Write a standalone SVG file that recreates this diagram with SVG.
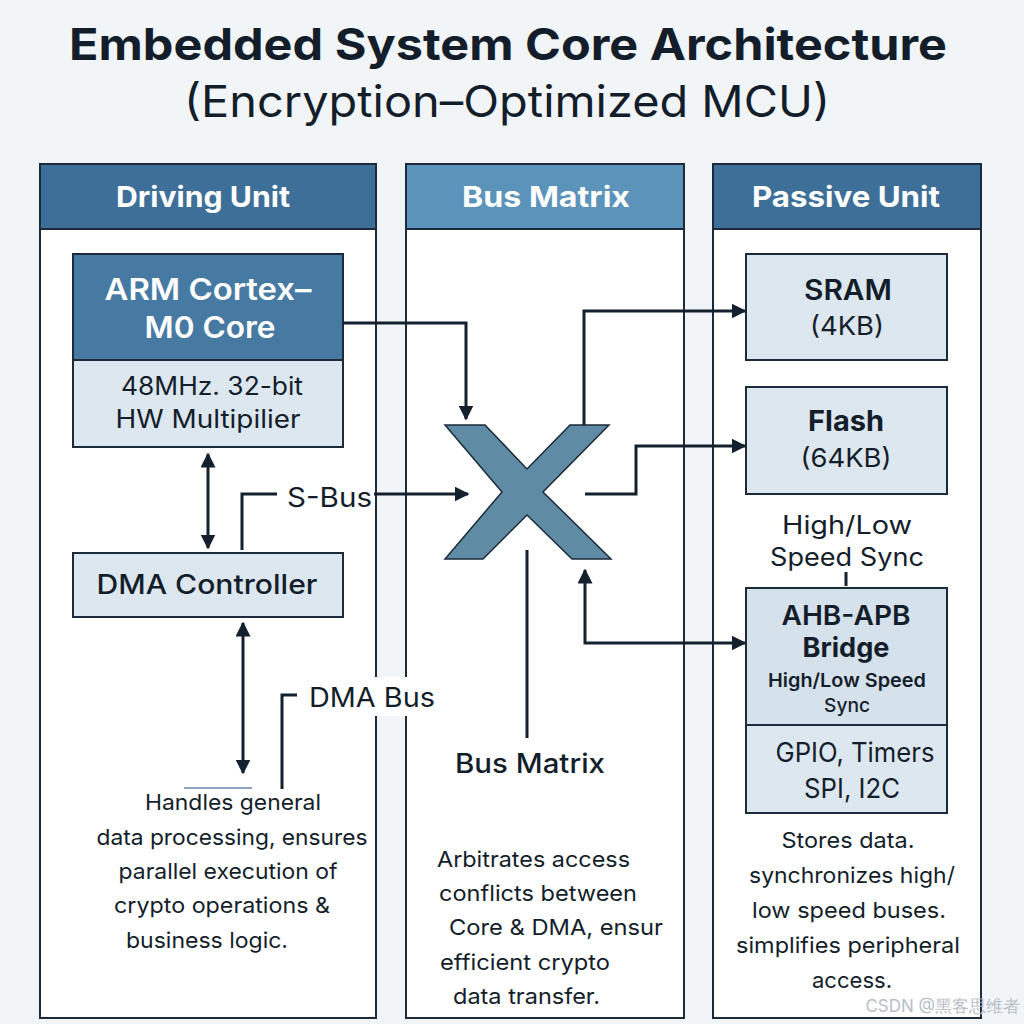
<svg xmlns="http://www.w3.org/2000/svg" width="1024" height="1024" viewBox="0 0 1024 1024">
<defs>
<style>
text{font-family:Inter,"Liberation Sans","DejaVu Sans",sans-serif;fill:#141e2b}
.hd{font-weight:bold;font-size:29px;fill:#ffffff}
.panel{fill:#ffffff;stroke:#1c2a3a;stroke-width:2}
.box{fill:#dde7f0;stroke:#1c2a3a;stroke-width:2}
.ln{fill:none;stroke:#15202e;stroke-width:3}
.desc{font-size:22px}
</style>
<marker id="ah" viewBox="0 0 10 10" refX="9" refY="5" markerWidth="5" markerHeight="5" orient="auto-start-reverse" markerUnits="strokeWidth">
<path d="M0,0 L10,5 L0,10 z" fill="#15202e"/>
</marker>
</defs>
<rect width="1024" height="1024" fill="#f2f5f8"/>
<g id="title">
<text x="508" y="60" text-anchor="middle" font-size="44" font-weight="bold" textLength="878" lengthAdjust="spacingAndGlyphs">Embedded System Core Architecture</text>
<text x="507" y="117" text-anchor="middle" font-size="44" textLength="646" lengthAdjust="spacingAndGlyphs">(Encryption–Optimized MCU)</text>
</g>
<g id="panel-driving">
<rect class="panel" x="40" y="164" width="336" height="854"/>
<rect x="40" y="164" width="336" height="65" fill="#3e6f98" stroke="#1c2a3a" stroke-width="2"/>
<text class="hd" x="203" y="207" text-anchor="middle" textLength="174" lengthAdjust="spacingAndGlyphs">Driving Unit</text>
</g>
<g id="panel-bus">
<rect class="panel" x="406" y="164" width="278" height="854"/>
<rect x="406" y="164" width="278" height="65" fill="#5b93ba" stroke="#1c2a3a" stroke-width="2"/>
<text class="hd" x="546" y="207" text-anchor="middle" textLength="168" lengthAdjust="spacingAndGlyphs">Bus Matrix</text>
</g>
<g id="panel-passive">
<rect class="panel" x="713" y="164" width="268" height="854"/>
<rect x="713" y="164" width="268" height="65" fill="#3e6f98" stroke="#1c2a3a" stroke-width="2"/>
<text class="hd" x="846" y="207" text-anchor="middle" textLength="188" lengthAdjust="spacingAndGlyphs">Passive Unit</text>
</g>
<g id="arm-core">
<rect x="73" y="254" width="270" height="106" fill="#477aa3" stroke="#1c2a3a" stroke-width="2"/>
<rect class="box" x="73" y="360" width="270" height="87"/>
<text x="208" y="300" text-anchor="middle" font-size="30" font-weight="600" style="fill:#ffffff" textLength="207" lengthAdjust="spacingAndGlyphs">ARM Cortex–</text>
<text x="210" y="338" text-anchor="middle" font-size="30" font-weight="600" style="fill:#ffffff" textLength="131" lengthAdjust="spacingAndGlyphs">M0 Core</text>
<text x="212" y="395" text-anchor="middle" font-size="25" textLength="182" lengthAdjust="spacingAndGlyphs">48MHz. 32-bit</text>
<text x="208" y="428" text-anchor="middle" font-size="25" textLength="185" lengthAdjust="spacingAndGlyphs">HW Multipilier</text>
</g>
<g id="dma-controller">
<rect class="box" x="73" y="553" width="270" height="64"/>
<text x="207" y="594" text-anchor="middle" font-size="27" font-weight="500" textLength="221" lengthAdjust="spacingAndGlyphs">DMA Controller</text>
</g>
<g id="crossbar">
<polygon points="445,425 485,425 527,469 570,425 609,425 543,492 611,559 572,559 527,515 483,559 445,559 502,492" fill="#5f8ba4" stroke="#1c2a3a" stroke-width="1.5"/>
</g>
<g id="sram">
<rect class="box" x="746" y="254" width="201" height="106"/>
<text x="848" y="300" text-anchor="middle" font-size="28" font-weight="600" textLength="88" lengthAdjust="spacingAndGlyphs">SRAM</text>
<text x="847" y="335" text-anchor="middle" font-size="26" textLength="74" lengthAdjust="spacingAndGlyphs">(4KB)</text>
</g>
<g id="flash">
<rect class="box" x="746" y="387" width="201" height="107"/>
<text x="846" y="431" text-anchor="middle" font-size="28" font-weight="bold" textLength="76" lengthAdjust="spacingAndGlyphs">Flash</text>
<text x="846" y="467" text-anchor="middle" font-size="26" textLength="91" lengthAdjust="spacingAndGlyphs">(64KB)</text>
</g>
<g id="ahb-bridge">
<rect x="746" y="588" width="201" height="137" fill="#d5e1eb" stroke="#1c2a3a" stroke-width="2"/>
<rect class="box" x="746" y="725" width="201" height="88" fill="#dfe8f1"/>
<text x="846" y="625" text-anchor="middle" font-size="27" font-weight="600" textLength="129" lengthAdjust="spacingAndGlyphs">AHB-APB</text>
<text x="846" y="657" text-anchor="middle" font-size="27" font-weight="bold" textLength="87" lengthAdjust="spacingAndGlyphs">Bridge</text>
<text x="847" y="687" text-anchor="middle" font-size="19" font-weight="600" textLength="158" lengthAdjust="spacingAndGlyphs">High/Low Speed</text>
<text x="847" y="712" text-anchor="middle" font-size="19" font-weight="500" textLength="46" lengthAdjust="spacingAndGlyphs">Sync</text>
<text x="855" y="762" text-anchor="middle" font-size="27" textLength="159" lengthAdjust="spacingAndGlyphs">GPIO, Timers</text>
<text x="852" y="798" text-anchor="middle" font-size="27" textLength="96" lengthAdjust="spacingAndGlyphs">SPI, I2C</text>
</g>
<g id="connectors">
<path class="ln" d="M208,454 L208,548" marker-start="url(#ah)" marker-end="url(#ah)"/>
<path class="ln" d="M242,550 L242,494 L277,494"/>
<path class="ln" d="M374,494 L468,494" marker-end="url(#ah)"/>
<path class="ln" d="M343,323 L466,323 L466,419" marker-end="url(#ah)"/>
<path class="ln" d="M584,425 L584,311 L745,311" marker-end="url(#ah)"/>
<path class="ln" d="M585,494 L636,494 L636,446 L745,446" marker-end="url(#ah)"/>
<path class="ln" d="M846,572 L846,586"/>
<path class="ln" d="M745,643 L585,643 L585,570" marker-start="url(#ah)" marker-end="url(#ah)"/>
<path class="ln" d="M527,550 L527,738" stroke-width="2.5"/>
<path class="ln" d="M243,623 L243,773" marker-start="url(#ah)" marker-end="url(#ah)"/>
<path d="M184,788 L252,788" stroke="#6a84a0" stroke-width="1.5"/>
<path class="ln" d="M282,789 L282,695 L297,695" stroke-width="2.5"/>
</g>
<g id="labels">
<text x="287" y="507" font-size="27" textLength="85" lengthAdjust="spacingAndGlyphs">S-Bus</text>
<rect x="302" y="677" width="136" height="39" fill="#ffffff"/>
<text x="309" y="707" font-size="27" textLength="126" lengthAdjust="spacingAndGlyphs">DMA Bus</text>
<text x="847" y="534" text-anchor="middle" font-size="25" textLength="130" lengthAdjust="spacingAndGlyphs">High/Low</text>
<text x="847" y="566" text-anchor="middle" font-size="25" textLength="154" lengthAdjust="spacingAndGlyphs">Speed Sync</text>
<text x="530" y="773" text-anchor="middle" font-size="27" font-weight="500" textLength="150" lengthAdjust="spacingAndGlyphs">Bus Matrix</text>
</g>
<g id="descriptions">
<text class="desc" x="233" y="810" text-anchor="middle" textLength="176" lengthAdjust="spacingAndGlyphs">Handles general</text>
<text class="desc" x="232" y="845" text-anchor="middle" textLength="271" lengthAdjust="spacingAndGlyphs">data processing, ensures</text>
<text class="desc" x="228" y="879" text-anchor="middle" textLength="219" lengthAdjust="spacingAndGlyphs">parallel execution of</text>
<text class="desc" x="222" y="913" text-anchor="middle" textLength="216" lengthAdjust="spacingAndGlyphs">crypto operations &amp;</text>
<text class="desc" x="207" y="948" text-anchor="middle" textLength="162" lengthAdjust="spacingAndGlyphs">business logic.</text>
<text class="desc" x="437" y="867" textLength="193" lengthAdjust="spacingAndGlyphs">Arbitrates access</text>
<text class="desc" x="439" y="901" textLength="198" lengthAdjust="spacingAndGlyphs">conflicts between</text>
<text class="desc" x="449" y="935" textLength="214" lengthAdjust="spacingAndGlyphs">Core &amp; DMA, ensur</text>
<text class="desc" x="440" y="970" textLength="170" lengthAdjust="spacingAndGlyphs">efficient crypto</text>
<text class="desc" x="453" y="1004" textLength="147" lengthAdjust="spacingAndGlyphs">data transfer.</text>
<text class="desc" x="848" y="848" text-anchor="middle" textLength="133" lengthAdjust="spacingAndGlyphs">Stores data.</text>
<text class="desc" x="852" y="883" text-anchor="middle" textLength="206" lengthAdjust="spacingAndGlyphs">synchronizes high/</text>
<text class="desc" x="849" y="918" text-anchor="middle" textLength="194" lengthAdjust="spacingAndGlyphs">low speed buses.</text>
<text class="desc" x="848" y="953" text-anchor="middle" textLength="224" lengthAdjust="spacingAndGlyphs">simplifies peripheral</text>
<text class="desc" x="852" y="988" text-anchor="middle" textLength="80" lengthAdjust="spacingAndGlyphs">access.</text>
</g>
<text x="1020" y="1012" text-anchor="end" font-family="Liberation Sans, Noto Sans CJK SC, sans-serif" font-size="17" style="fill:#b8bec6">CSDN @黑客思维者</text>
</svg>
